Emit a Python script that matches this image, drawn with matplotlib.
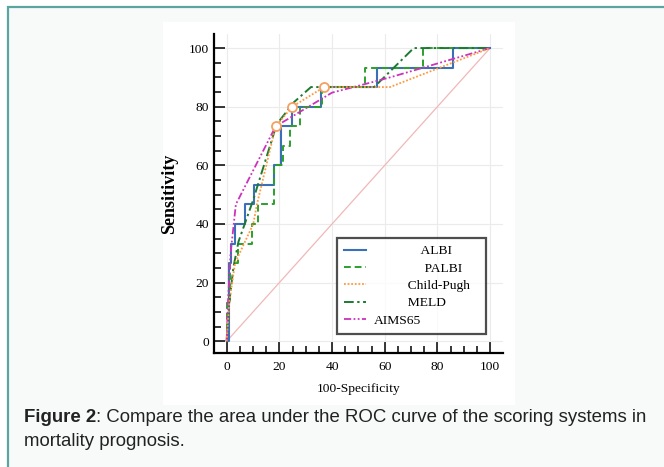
import matplotlib
matplotlib.use("Agg")
import matplotlib.pyplot as plt
from matplotlib.patches import Rectangle
from matplotlib.ticker import MultipleLocator

# ---------------------------------------------------------------------------
# Data (in %)
# ---------------------------------------------------------------------------
albi_fpr = [0, 0.8, 1.8, 3.3, 7.1, 10.5, 17.8, 20.8, 24.8, 35.8, 57, 85.8, 100]
albi_tpr = [0, 26.7, 33.3, 40, 46.7, 53.3, 60, 73.3, 80, 86.7, 93.3, 100, 100]

palbi_fpr = [0, 0.3, 1.3, 4.4, 9.5, 12, 17.8, 21.5, 24, 28, 36.2, 52.5, 74.7, 100]
palbi_tpr = [0, 13.3, 26.7, 33.3, 40, 46.7, 60, 66.7, 73.3, 80, 86.7, 93.3, 100, 100]

cp_fpr = [0, 1, 3.2, 10.1, 11.5, 18.6, 24.9, 37, 62, 100]
cp_tpr = [0, 13.3, 26.7, 40, 46.7, 73.3, 80, 86.7, 86.7, 100]
cp_marked = [5, 6, 7]

meld_fpr = [0, 1, 2.6, 4.5, 10, 19, 25.5, 32, 56, 71, 100]
meld_tpr = [0, 13.3, 25.4, 34, 48, 74, 81.5, 86.7, 86.7, 100, 100]

aims_fpr = [0, 0.5, 1.5, 3.5, 18.6, 40, 52, 62, 100]
aims_tpr = [0, 13.3, 30, 46.7, 73.3, 84.8, 87.6, 90, 100]

ref_line = [0, 100]

ticks = [0, 20, 40, 60, 80, 100]

SERIF = ["Liberation Serif", "DejaVu Serif"]
CAP = ["Liberation Sans", "DejaVu Sans"]
FS = 9.7

# ---------------------------------------------------------------------------
# Figure
# ---------------------------------------------------------------------------
fig = plt.figure(figsize=(6.64, 4.67), dpi=100)
fig.patch.set_facecolor("white")

# page box with teal border (left/top visible)
fig.patches.append(Rectangle((8 / 664, -0.1), 1.2, 1 - 7 / 467 + 0.1,
                             transform=fig.transFigure, facecolor="#f8fafa",
                             edgecolor="#5aa5a0", linewidth=1.6, zorder=0))
# white panel behind the chart
fig.patches.append(Rectangle((163 / 664, 1 - 405 / 467), 352 / 664, 383 / 467,
                             transform=fig.transFigure, facecolor="white",
                             edgecolor="none", zorder=1))

ax = fig.add_axes([214 / 664, 1 - 353 / 467, 289 / 664, 319 / 467])
ax.set_facecolor("none")
ax.set_zorder(2)

ax.plot(ref_line, ref_line, color="#f0b8b8", lw=0.9, zorder=2)

ax.plot(albi_fpr, albi_tpr, drawstyle="steps-post", color="#3a70b8",
        lw=1.5, label=" " * 14 + "ALBI", zorder=4)
ax.plot(palbi_fpr, palbi_tpr, drawstyle="steps-post", color="#2ca02c",
        lw=1.4, ls=(0, (3.5, 2)), label=" " * 15 + "PALBI", zorder=4)
ax.plot(cp_fpr, cp_tpr, color="#ff9a40", lw=1.3, ls=(0, (1, 1)),
        label=" " * 10 + "Child-Pugh", zorder=5)
ax.plot(cp_fpr, cp_tpr, ls="none", marker="o", markevery=cp_marked, ms=6.5,
        mfc="white", mec="#f5a060", mew=1.3, zorder=6)
ax.plot(meld_fpr, meld_tpr, color="#1e7a32", lw=1.4, ls=(0, (5, 1.8, 1.2, 1.8)),
        label=" " * 10 + "MELD", zorder=4)
ax.plot(aims_fpr, aims_tpr, color="#cc33bb", lw=1.3,
        ls=(0, (4, 1.3, 1, 1.3, 1, 1.3)), label="AIMS65", zorder=4)

ax.set_xlim(-4.8, 104.9)
ax.set_ylim(-4.0, 104.8)
ax.set_xticks(ticks)
ax.set_yticks(ticks)
ax.xaxis.set_minor_locator(MultipleLocator(5))
ax.yaxis.set_minor_locator(MultipleLocator(5))
ax.grid(True, which="major", color="#ebebeb", lw=0.8, zorder=0)

for side in ["top", "right"]:
    ax.spines[side].set_visible(False)
for side in ["left", "bottom"]:
    ax.spines[side].set_linewidth(1.6)

ax.tick_params(which="both", direction="in", width=1.1, color="black")
ax.tick_params(which="major", length=8)
ax.tick_params(which="minor", length=5)
ax.tick_params(axis="x", which="major", pad=6)
ax.tick_params(axis="y", which="major", pad=3.5)
for lab in ax.get_xticklabels() + ax.get_yticklabels():
    lab.set_family(SERIF)
    lab.set_fontsize(FS)

ax.set_xlabel("100-Specificity", family=SERIF, fontsize=FS, labelpad=7)
ax.set_ylabel("Sensitivity", family=SERIF, fontsize=13, fontweight="bold")
ax.yaxis.set_label_coords(-0.125, 0.5)

leg = ax.legend(loc="lower left", bbox_to_anchor=(0.4256, 0.0596, 0.515, 0.30),
                mode="expand", prop={"family": SERIF, "size": FS},
                fancybox=False, frameon=True, borderpad=0.55,
                labelspacing=0.36, handlelength=1.6, handletextpad=0.6,
                borderaxespad=0)
leg.get_frame().set_edgecolor("#222222")
leg.get_frame().set_linewidth(1.6)

# caption
t1 = fig.text(24 / 664, 1 - 418 / 467, "Figure 2", family=CAP, fontsize=13.4,
              fontweight="bold", va="center", ha="left", color="#222222")
fig.canvas.draw()
bb = t1.get_window_extent(fig.canvas.get_renderer())
fig.text(bb.x1 / fig.bbox.width, 1 - 418 / 467,
         ": Compare the area under the ROC curve of the scoring systems in",
         family=CAP, fontsize=13.4, va="center", ha="left", color="#222222")
fig.text(24 / 664, 1 - 441 / 467, "mortality prognosis.", family=CAP,
         fontsize=13.4, va="center", ha="left", color="#222222")

fig.savefig("out.png", dpi=100, facecolor=fig.get_facecolor())
